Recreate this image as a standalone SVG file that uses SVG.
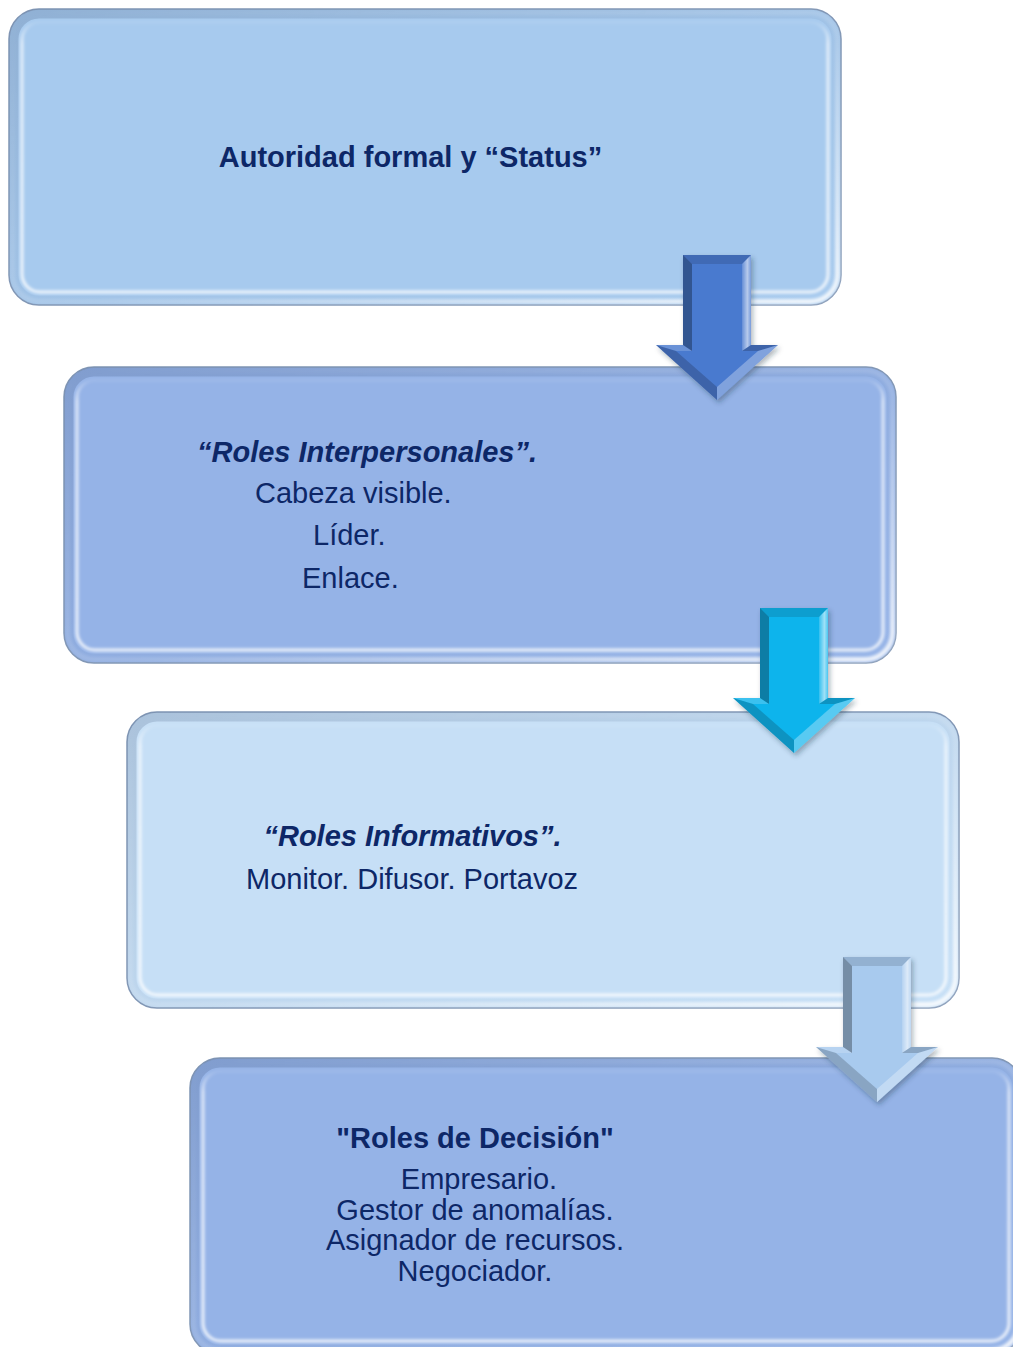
<svg xmlns="http://www.w3.org/2000/svg" width="1013" height="1347" viewBox="0 0 1013 1347">
  <style>
    .frame { stroke: #7f95b4; stroke-width: 1.5; }
    .shade { fill: none; stroke: url(#rimShade); stroke-width: 9; }
    .glint { fill: none; stroke: url(#rimLight); stroke-width: 3; filter: url(#soft); }
    .edge { fill: none; stroke: url(#edgeLight); stroke-width: 5; filter: url(#soft); }
    .lbl { font-family: "Liberation Sans", Arial, sans-serif; font-size: 29px; fill: #0d2767; }
    .b { font-weight: bold; }
    .bi { font-weight: bold; font-style: italic; }
    .mid { text-anchor: middle; }
    .dark1 { fill: #000; opacity: 0.30; }
    .dark2 { fill: #000; opacity: 0.18; }
    .dark3 { fill: #000; opacity: 0.12; }
    .lite1 { fill: url(#shaftGlow); }
    .lite2 { fill: #fff; opacity: 0.30; }
    .lite3 { fill: #fff; opacity: 0.18; }
  </style>
  <defs>
    <filter id="soft" x="-5%" y="-5%" width="110%" height="110%">
      <feGaussianBlur stdDeviation="1.4"/>
    </filter>
    <filter id="drop" x="-30%" y="-20%" width="160%" height="150%">
      <feDropShadow dx="2" dy="3" stdDeviation="2.5" flood-color="#203040" flood-opacity="0.35"/>
    </filter>
    <!-- inner glint of the bevel: faint on top, bright on left, right and bottom -->
    <linearGradient id="rimLight" x1="0" y1="0" x2="0" y2="1">
      <stop offset="0" stop-color="#fff" stop-opacity="0.08"/>
      <stop offset="0.08" stop-color="#fff" stop-opacity="0.7"/>
      <stop offset="1" stop-color="#fff" stop-opacity="0.85"/>
    </linearGradient>
    <!-- outer bevel light, strongest at the right and bottom -->
    <linearGradient id="edgeLight" x1="0" y1="0" x2="1" y2="1">
      <stop offset="0" stop-color="#fff" stop-opacity="0"/>
      <stop offset="0.55" stop-color="#fff" stop-opacity="0.15"/>
      <stop offset="1" stop-color="#fff" stop-opacity="0.85"/>
    </linearGradient>
    <!-- slight darkening near the top/left outer edge -->
    <linearGradient id="rimShade" x1="0" y1="0" x2="1" y2="1">
      <stop offset="0" stop-color="#1a2c50" stop-opacity="0.16"/>
      <stop offset="0.5" stop-color="#1a2c50" stop-opacity="0.05"/>
      <stop offset="1" stop-color="#1a2c50" stop-opacity="0"/>
    </linearGradient>
    <linearGradient id="shaftGlow" x1="0" y1="0" x2="1" y2="0">
      <stop offset="0" stop-color="#fff" stop-opacity="0.15"/>
      <stop offset="0.6" stop-color="#fff" stop-opacity="0.6"/>
      <stop offset="1" stop-color="#fff" stop-opacity="0.25"/>
    </linearGradient>

    <!-- bevelled box, 832 x 296 -->
    <g id="panel">
      <rect class="frame" x="0" y="0" width="832" height="296" rx="30"/>
      <rect class="shade" x="5" y="5" width="822" height="286" rx="25"/>
      <rect class="edge" x="3.5" y="3.5" width="825" height="289" rx="27"/>
      <rect class="glint" x="13" y="13" width="806" height="270" rx="18"/>
    </g>

    <!-- bevelled down arrow, origin at top-left of the shaft -->
    <g id="arrow">
      <polygon points="0,0 68,0 68,90 95,90 34,145 -27,90 0,90"/>
      <polygon class="dark3" points="0,0 68,0 59,9 9,9"/>
      <polygon class="dark1" points="0,0 9,9 9,96 0,90"/>
      <polygon class="lite1" points="68,0 68,90 59,96 59,9"/>
      <polygon class="lite3" points="0,90 9,96 -7,96 -27,90"/>
      <polygon class="dark2" points="68,90 95,90 75,96 59,96"/>
      <polygon class="dark2" points="-27,90 -7,96 34,132 34,145"/>
      <polygon class="lite2" points="95,90 34,145 34,132 75,96"/>
    </g>
  </defs>

  <!-- node 1 -->
  <g id="node-autoridad">
    <use href="#panel" x="9" y="9" fill="#a7caee"/>
    <text class="lbl b mid" x="410.5" y="167">Autoridad formal y “Status”</text>
  </g>

  <!-- node 2 -->
  <g id="node-interpersonales">
    <use href="#panel" x="64" y="367" fill="#95b3e7"/>
    <text class="lbl bi" x="197" y="462">“Roles Interpersonales”.</text>
    <text class="lbl" x="255" y="503">Cabeza visible.</text>
    <text class="lbl" x="313" y="545">Líder.</text>
    <text class="lbl" x="302" y="588">Enlace.</text>
  </g>

  <!-- node 3 -->
  <g id="node-informativos">
    <use href="#panel" x="127" y="712" fill="#c6dff6"/>
    <text class="lbl bi mid" x="412.5" y="846">“Roles Informativos”.</text>
    <text class="lbl mid" x="412" y="889">Monitor. Difusor. Portavoz</text>
  </g>

  <!-- node 4 -->
  <g id="node-decision">
    <use href="#panel" x="190" y="1058" fill="#95b3e7"/>
    <text class="lbl b mid" x="475" y="1148">"Roles de Decisión"</text>
    <text class="lbl mid" x="479" y="1189">Empresario.</text>
    <text class="lbl mid" x="475" y="1220">Gestor de anomalías.</text>
    <text class="lbl mid" x="475" y="1250">Asignador de recursos.</text>
    <text class="lbl mid" x="475" y="1281">Negociador.</text>
  </g>

  <!-- connectors -->
  <g id="connectors" filter="url(#drop)">
    <use href="#arrow" x="683" y="255" fill="#4a7acf"/>
    <use href="#arrow" x="760" y="608" fill="#10b4ec"/>
    <use href="#arrow" x="843" y="957" fill="#a8caee"/>
  </g>
</svg>
